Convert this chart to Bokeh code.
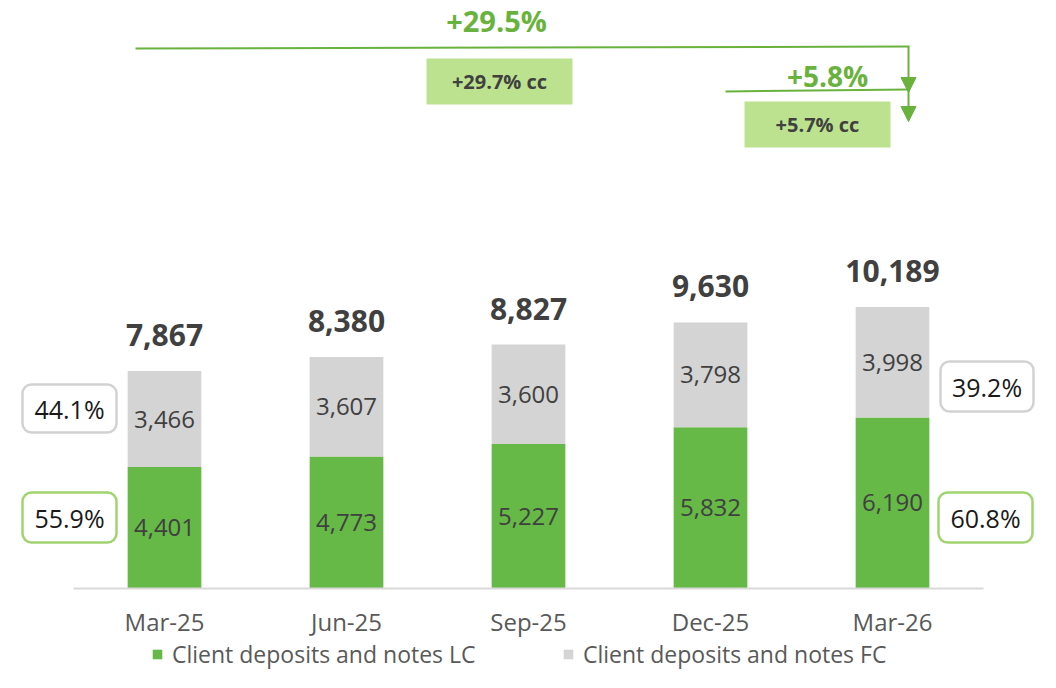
import numpy as np
from bokeh.plotting import figure
from bokeh.models import ColumnDataSource, Range1d, Arrow, NormalHead
from bokeh.core.properties import value
from bokeh.embed import file_html
from bokeh.resources import INLINE

# ---------------- data ----------------
categories = ["Mar-25", "Jun-25", "Sep-25", "Dec-25", "Mar-26"]
deposits_lc = [4401, 4773, 5227, 5832, 6190]
deposits_fc = [3466, 3607, 3600, 3798, 3998]
totals = [7867, 8380, 8827, 9630, 10189]
series_names = ["Client deposits and notes LC", "Client deposits and notes FC"]
share_first = ["55.9%", "44.1%"]   # LC, FC share at Mar-25
share_last = ["60.8%", "39.2%"]    # LC, FC share at Mar-26
growth_yoy = "+29.5%"
growth_yoy_cc = "+29.7% cc"
growth_qoq = "+5.8%"
growth_qoq_cc = "+5.7% cc"

# ---------------- style ----------------
GREEN = "#66b946"
GREY = "#d4d4d4"
LINE_GREEN = "#6ab23e"
BOX_GREEN = "#bde28f"
BOX_GREEN_BORDER = "#a0d470"
BOX_GREY_BORDER = "#d2d2d2"
DARK = "#404040"
FONT = value("Open Sans")

W, H = 1040, 672
K = 36.19          # value units per pixel (vertical)
STEP = 182.0       # pixels per category
X0 = 73.0          # px of category-axis start
BASE = 588.0       # px of baseline


def X(px):
    return (px - X0) / STEP


def Y(py):
    return (BASE - py) * K


p = figure(width=W, height=H, x_range=Range1d(X(0), X(W)),
           y_range=Range1d(Y(H), Y(0)), x_axis_type=None, y_axis_type=None,
           toolbar_location=None, output_backend="svg", min_border=0,
           outline_line_color=None)
p.background_fill_color = "white"

xs = np.arange(len(categories)) + 0.5
lc = np.array(deposits_lc, dtype=float)
fc = np.array(deposits_fc, dtype=float)
tot = np.array(totals, dtype=float)

src = ColumnDataSource(dict(
    x=xs, lc=lc, top=lc + fc,
    lc_mid=lc / 2, fc_mid=lc + fc / 2,
    lc_lab=[f"{v:,}" for v in deposits_lc],
    fc_lab=[f"{v:,}" for v in deposits_fc],
    tot_y=tot + 36 * K,
    tot_lab=[f"{v:,}" for v in totals],
    cat=categories,
    cat_y=[Y(621)] * len(categories),
))

bw = 0.405
r_lc = p.vbar(x="x", bottom=0, top="lc", width=bw, source=src,
              fill_color=GREEN, line_color=None, legend_label=series_names[0])
r_fc = p.vbar(x="x", bottom="lc", top="top", width=bw, source=src,
              fill_color=GREY, line_color=None, legend_label=series_names[1])

# baseline
p.segment(x0=[0], y0=[0], x1=[len(categories)], y1=[0], line_color="#d9d9d9", line_width=2)

# value labels
p.text(x="x", y="lc_mid", text="lc_lab", source=src, text_font=FONT, text_font_size="24px",
       text_color=DARK, text_align="center", text_baseline="middle")
p.text(x="x", y="fc_mid", text="fc_lab", source=src, text_font=FONT, text_font_size="24px",
       text_color=DARK, text_align="center", text_baseline="middle")
p.text(x="x", y="tot_y", text="tot_lab", source=src, text_font=FONT, text_font_size="30px",
       text_font_style="bold", text_color=DARK, text_align="center", text_baseline="middle")
# category labels
p.text(x="x", y="cat_y", text="cat", source=src, text_font=FONT, text_font_size="24px",
       text_color="#595959", text_align="center", text_baseline="middle")

# share boxes
boxes = [
    (22, 116, 384, 432, share_first[1], BOX_GREY_BORDER),
    (22, 116, 492, 542, share_first[0], BOX_GREEN_BORDER),
    (940, 1033, 361, 411, share_last[1], BOX_GREY_BORDER),
    (938, 1032, 492, 542, share_last[0], BOX_GREEN_BORDER),
]
for l, r, t, b, txt, col in boxes:
    p.quad(left=[X(l)], right=[X(r)], top=[Y(t)], bottom=[Y(b)], fill_color="white",
           line_color=col, line_width=2.5, border_radius=9)
    p.text(x=[X((l + r) / 2)], y=[Y((t + b) / 2)], text=[txt], text_font=FONT,
           text_font_size="25px", text_color="#1a1a1a", text_align="center",
           text_baseline="middle")

# growth annotations
p.text(x=[X(496)], y=[Y(20)], text=[growth_yoy], text_font=FONT, text_font_size="29px",
       text_font_style="bold", text_color=LINE_GREEN, text_align="center", text_baseline="middle")
p.text(x=[X(827)], y=[Y(75)], text=[growth_qoq], text_font=FONT, text_font_size="28px",
       text_font_style="bold", text_color=LINE_GREEN, text_align="center", text_baseline="middle")

for l, r, t, b, txt in [(426, 572, 58, 104, growth_yoy_cc), (744, 890, 101, 147, growth_qoq_cc)]:
    p.quad(left=[X(l)], right=[X(r)], top=[Y(t)], bottom=[Y(b)], fill_color=BOX_GREEN,
           line_color=None)
    p.text(x=[X((l + r) / 2)], y=[Y((t + b) / 2)], text=[txt], text_font=FONT,
           text_font_size="20px", text_font_style="bold", text_color=DARK,
           text_align="center", text_baseline="middle")

p.segment(x0=[X(135)], y0=[Y(48)], x1=[X(909)], y1=[Y(46)], line_color=LINE_GREEN, line_width=2)
p.segment(x0=[X(725)], y0=[Y(91)], x1=[X(909)], y1=[Y(89)], line_color=LINE_GREEN, line_width=2)
for y0, y1 in [(46, 92), (89, 121)]:
    p.add_layout(Arrow(x_start=X(908), y_start=Y(y0), x_end=X(908), y_end=Y(y1),
                       line_color=LINE_GREEN, line_width=2,
                       end=NormalHead(size=15, fill_color=LINE_GREEN, line_color=LINE_GREEN)))

# legend
lg = p.legend[0]
lg.orientation = "horizontal"
lg.location = (151, 2)
lg.padding = 0
lg.margin = 0
lg.spacing = 10
lg.glyph_width = 12
lg.glyph_height = 12
lg.label_standoff = 9
lg.label_width = 380
lg.label_height = 22
lg.label_text_font = "Open Sans"
lg.label_text_font_size = "23px"
lg.label_text_color = "#595959"
lg.border_line_color = None
lg.background_fill_alpha = 0

open("out.html", "w").write(file_html(p, INLINE))
